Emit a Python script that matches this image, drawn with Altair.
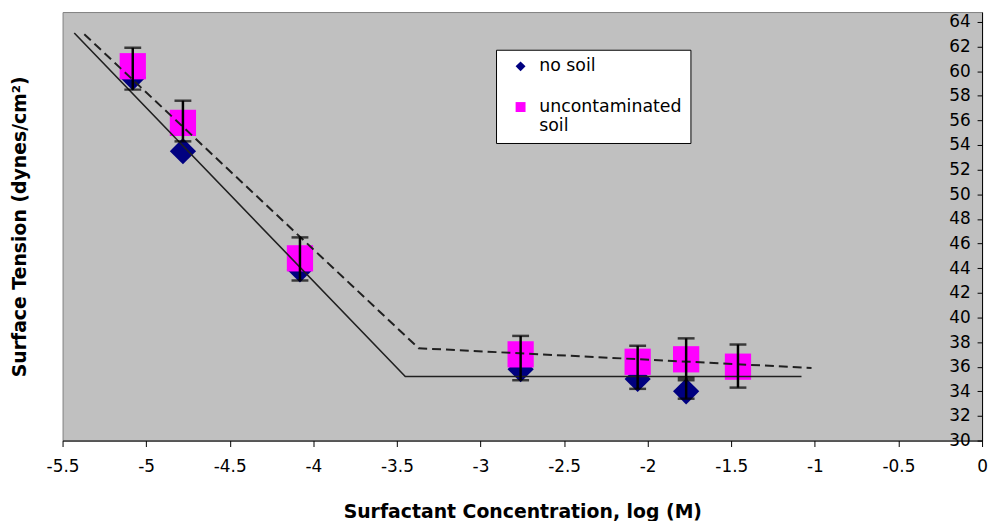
import altair as alt
import pandas as pd

# ---- data ----
series_names = ["no soil", "uncontaminated soil"]

ns_x = [-5.08, -4.78, -4.08, -2.76, -2.06, -1.77]
ns_y = [59.5, 53.5, 43.9, 35.8, 35.0, 34.0]
ns_err_x = [-1.77]
ns_err_hi = [35.1]
ns_err_lo = [33.4]

us_x = [-5.08, -4.78, -4.08, -2.76, -2.06, -1.77, -1.46]
us_y = [60.4, 55.8, 44.8, 37.0, 36.4, 36.6, 36.0]
us_err_hi = [61.9, 57.6, 46.5, 38.5, 37.7, 38.3, 37.8]
us_err_lo = [58.5, 54.3, 43.0, 34.9, 34.2, 34.9, 34.3]

fit_ns_x = [-5.43, -3.45, -1.08]
fit_ns_y = [63.1, 35.2, 35.2]
fit_us_x = [-5.37, -3.37, -1.02]
fit_us_y = [63.0, 37.5, 35.9]

x_ticks = [-5.5, -5, -4.5, -4, -3.5, -3, -2.5, -2, -1.5, -1, -0.5, 0]
y_ticks = list(range(30, 65, 2))

# ---- tables ----
pts = pd.DataFrame({
    "x": ns_x + us_x,
    "y": ns_y + us_y,
    "series": [series_names[0]] * len(ns_x) + [series_names[1]] * len(us_x),
})
err = pd.DataFrame({
    "x": ns_err_x + us_x,
    "lo": ns_err_lo + us_err_lo,
    "hi": ns_err_hi + us_err_hi,
})
fit_ns = pd.DataFrame({"x": fit_ns_x, "y": fit_ns_y})
fit_us = pd.DataFrame({"x": fit_us_x, "y": fit_us_y})

FONT = "DejaVu Sans"
W, H = 927, 432

xs = alt.Scale(domain=[-5.5, 0], nice=False, zero=False)
ys = alt.Scale(domain=[30, 64.8], nice=False, zero=False)

x_axis = alt.Axis(
    title="Surfactant Concentration, log (M)",
    values=x_ticks, grid=False, tickSize=6, tickColor="black", domainColor="black",
    labelFont=FONT, labelFontSize=17, labelColor="black", labelPadding=12,
    labelFlush=False, labelOverlap=False, labelExpr="toString(datum.value)",
    titleFont=FONT, titleFontSize=19, titleFontWeight="bold", titleColor="black",
    titlePadding=29,
)
y_axis = alt.Axis(
    title="Surface Tension  (dynes/cm²)",
    orient="left", offset=-W,
    values=y_ticks, grid=False, tickSize=5, tickColor="black", domainColor="black",
    labelFont=FONT, labelFontSize=17, labelColor="black", labelPadding=7,
    labelFlush=False, labelOverlap=False, labelBound=False,
    titleFont=FONT, titleFontSize=19, titleFontWeight="bold", titleColor="black",
    titleX=-(W + 43), titleY=H / 2, titleAngle=270, titleAlign="center",
    titleBaseline="middle",
)


def X(field="x"):
    return alt.X(f"{field}:Q", scale=xs, axis=x_axis)


def Y(field="y"):
    return alt.Y(f"{field}:Q", scale=ys, axis=y_axis)


points = alt.Chart(pts).mark_point(filled=True, opacity=1, size=700, strokeWidth=0).encode(
    x=X(),
    y=Y(),
    color=alt.Color(
        "series:N",
        scale=alt.Scale(domain=series_names, range=["#000080", "#FF00FF"]),
        legend=alt.Legend(
            orient="none", legendX=437, legendY=38, title=None,
            fillColor="white", strokeColor="black", padding=8,
            symbolSize=100, symbolOffset=8, symbolStrokeWidth=0,
            labelFont=FONT, labelFontSize=17.5, labelColor="black", labelOffset=10,
            labelLimit=300, rowPadding=22,
            labelExpr="datum.label == 'uncontaminated soil' ? ['uncontaminated', 'soil'] : datum.label",
        ),
    ),
    shape=alt.Shape(
        "series:N",
        scale=alt.Scale(domain=series_names, range=["diamond", "square"]),
        legend=None,
    ),
    order=alt.Order("series:N"),
)

line_ns = alt.Chart(fit_ns).mark_line(color="#202020", strokeWidth=1.6).encode(x=X(), y=Y())
line_us = alt.Chart(fit_us).mark_line(color="#202020", strokeWidth=2, strokeDash=[9, 5]).encode(x=X(), y=Y())

bars = alt.Chart(err).mark_rule(color="black", strokeWidth=2.5).encode(x=X(), y=Y("lo"), y2="hi:Q")
cap_hi = alt.Chart(err).mark_tick(color="black", thickness=2.5, size=17, orient="horizontal").encode(
    x=X(), y=Y("hi")
)
cap_lo = alt.Chart(err).mark_tick(color="black", thickness=2.5, size=17, orient="horizontal").encode(
    x=X(), y=Y("lo")
)

chart = alt.layer(points, line_ns, line_us, bars, cap_hi, cap_lo).properties(
    width=W, height=H,
    autosize=alt.AutoSizeParams(type="none"),
    padding={"left": 55, "top": 2, "right": 7, "bottom": 79},
    background="white",
).configure_view(
    fill="#C0C0C0", stroke="#808080", strokeWidth=1
)

chart.save("out.html", embed_options={"renderer": "svg", "actions": False})
